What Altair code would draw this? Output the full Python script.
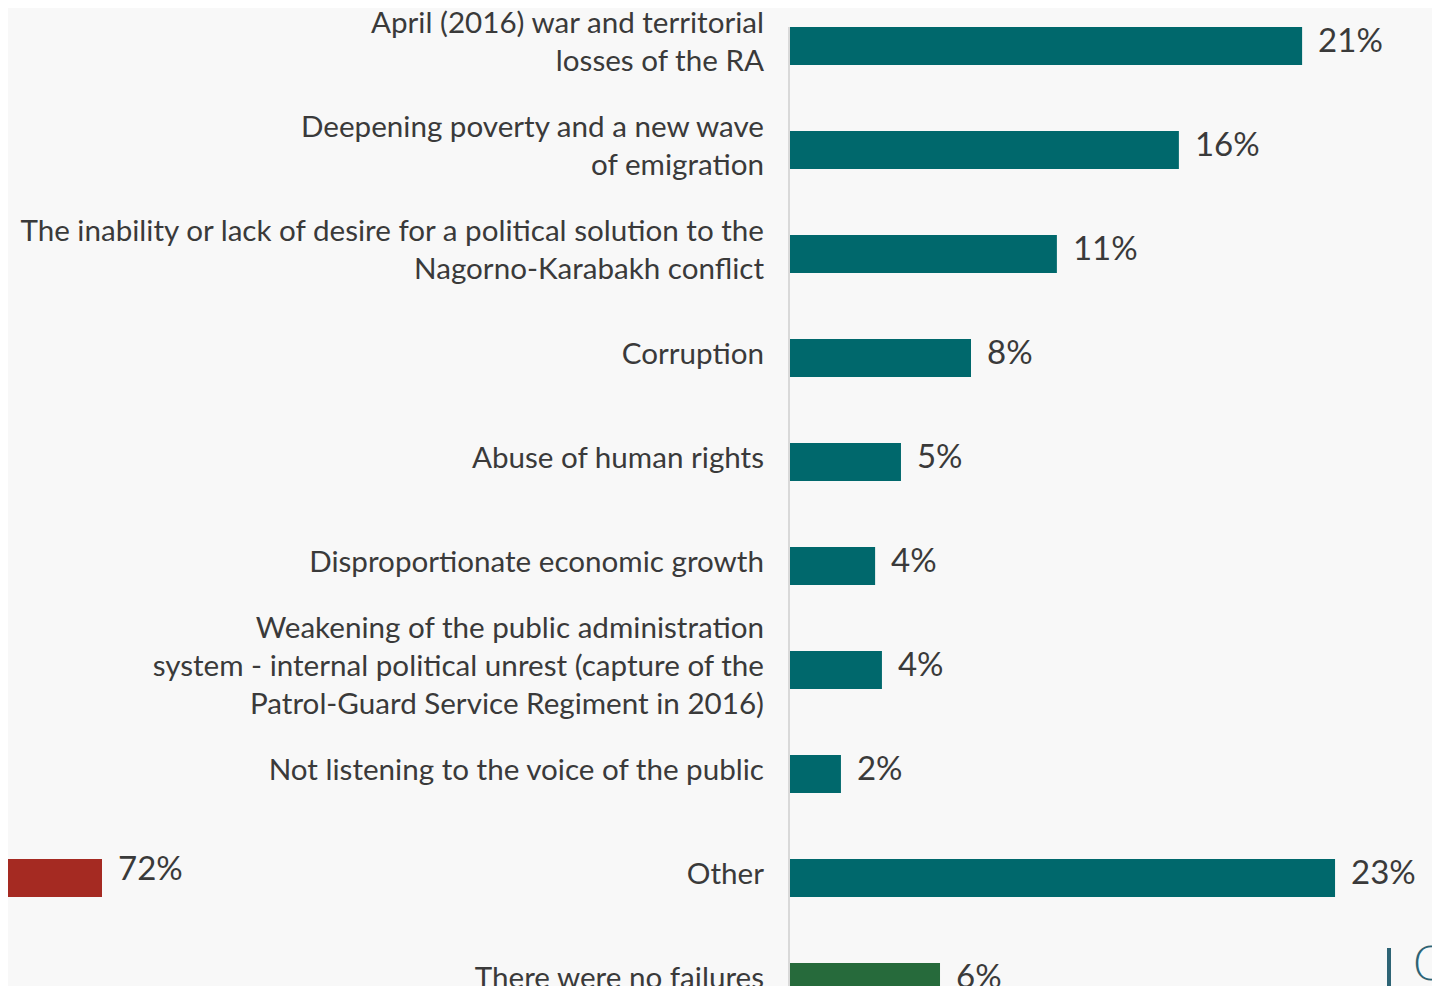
import altair as alt
import pandas as pd

categories = [
    "April (2016) war and territorial\nlosses of the RA",
    "Deepening poverty and a new wave\nof emigration",
    "The inability or lack of desire for a political solution to the\nNagorno-Karabakh conflict",
    "Corruption",
    "Abuse of human rights",
    "Disproportionate economic growth",
    "Weakening of the public administration\nsystem - internal political unrest (capture of the\nPatrol-Guard Service Regiment in 2016)",
    "Not listening to the voice of the public",
    "Other",
    "There were no failures",
]
values = [21.07, 16.02, 11.02, 7.5, 4.63, 3.57, 3.85, 2.17, 22.42, 6.23]
value_labels = ["21%", "16%", "11%", "8%", "5%", "4%", "4%", "2%", "23%", "6%"]
groups = ["fail"] * 9 + ["none"]

side_category = ["Other"]
side_values = [72]
side_labels = ["72%"]

df = pd.DataFrame({"cat": categories, "val": values, "lab": value_labels, "grp": groups})
df_side = pd.DataFrame({"cat": side_category, "val": side_values, "lab": side_labels})

FONT = "Lato"
TXT = "#3a3a3a"
LINE_H = 38
PLOT_W = 644

yscale = alt.Scale(domain=categories, range=[0, 1012], paddingInner=0.6346, paddingOuter=0.1827)
xscale = alt.Scale(domain=[0, PLOT_W / 24.4])
Y = alt.Y("cat:N", sort=None, scale=yscale, axis=None)

bars = alt.Chart(df).mark_bar().encode(
    x=alt.X("val:Q", scale=xscale, axis=None),
    y=Y,
    color=alt.Color("grp:N", scale=alt.Scale(domain=["fail", "none"], range=["#00686c", "#266a3b"]), legend=None),
)
labels = alt.Chart(df).mark_text(align="left", baseline="middle", dx=16, dy=-4,
                                 font=FONT, fontSize=33, color=TXT).encode(
    x=alt.X("val:Q", scale=xscale, axis=None),
    y=Y,
    text="lab:N",
)
cat_text = alt.Chart(df).transform_calculate(
    lines="split(datum.cat, '\\n')",
    off=f"19 - (length(split(datum.cat, '\\n')) - 1) * {LINE_H / 2} - 3",
).mark_text(align="right", baseline="middle", font=FONT, fontSize=29.6, color=TXT,
            lineHeight=LINE_H).encode(
    x=alt.value(-24),
    y=Y,
    yOffset=alt.YOffset("off:Q", scale=None),
    text="lines:N",
)
rule = alt.Chart(df).mark_rule(color="#d9d9d9", strokeWidth=2).encode(
    x=alt.value(1), y=alt.value(19), y2=alt.value(1012))

logo_bar = alt.Chart(df).mark_rule(color="#2e6475", strokeWidth=4).encode(
    x=alt.value(601), y=alt.value(940), y2=alt.value(1012))
logo_c = alt.Chart(pd.DataFrame({"t": ["C"]})).mark_text(
    align="left", baseline="middle", font="DejaVu Sans", fontSize=46, fontWeight=200,
    color="#2e6475").encode(x=alt.value(624), y=alt.value(958), text="t:N")

side_scale = alt.Scale(domain=[0, 72], range=[-788, -686])
side_bar = alt.Chart(df_side).mark_bar(color="#a52a22").encode(
    x=alt.X("val:Q", scale=side_scale, axis=None),
    y=Y,
)
side_text = alt.Chart(df_side).mark_text(align="left", baseline="middle", dx=16, dy=-8,
                                         font=FONT, fontSize=33, color=TXT).encode(
    x=alt.X("val:Q", scale=side_scale, axis=None),
    y=Y,
    text="lab:N",
)

main = alt.layer(bars, labels, cat_text, rule, logo_bar, logo_c)
side = alt.layer(side_bar, side_text)

chart = alt.layer(main, side).resolve_scale(x="independent").properties(
    width=PLOT_W, height=978,
    background="#f8f8f8",
    padding={"left": 780, "top": 0, "right": 0, "bottom": 0},
    autosize=alt.AutoSizeParams(type="none"),
).configure_view(stroke=None)

chart.save("out.html", embed_options={"renderer": "svg", "actions": False})
